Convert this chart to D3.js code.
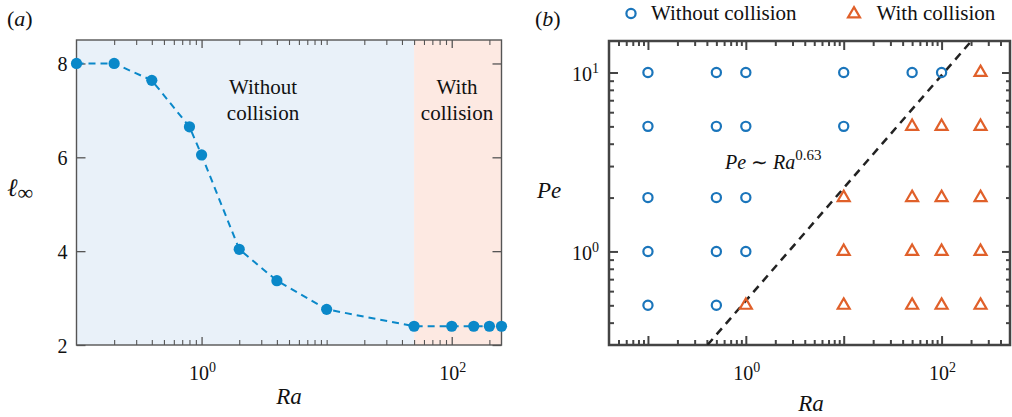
<!DOCTYPE html>
<html>
<head>
<meta charset="utf-8">
<script src="https://cdn.jsdelivr.net/npm/d3@7"></script>
<style>
  body { margin: 0; background: #fff; }
  svg { display: block; }
  text { font-family: "Liberation Serif", "Times New Roman", serif; fill: #111; }
</style>
</head>
<body>
<svg id="fig" width="1012" height="417"></svg>
<script>
// ---- Panel (a): asymptotic length against Rayleigh number ----
const raA = [0.1, 0.2, 0.4, 0.8, 1, 2, 4, 10, 50, 100, 150, 200, 250];
const ellInf = [8.0, 8.0, 7.64, 6.65, 6.05, 4.04, 3.37, 2.76, 2.4, 2.4, 2.4, 2.4, 2.4];
const regimeSplitRa = 50;
const xDomainA = [0.1, 250];
const yDomainA = [2, 8.5];
const xMajorA = [1, 100];
const xLabelExpA = ["0", "2"];
const yTicksA = [2, 4, 6, 8];
const regionLabelsA = [["Without", "collision"], ["With", "collision"]];

// ---- Panel (b): regime map in the (Ra, Pe) plane ----
const raB = [0.1, 0.5, 1, 10, 50, 100, 250];
const peB = [10, 5, 2, 1, 0.5];
// 1 = collision observed, one row per Ra value, columns follow peB
const collisionFlags = [
  [0, 0, 0, 0, 0],
  [0, 0, 0, 0, 0],
  [0, 0, 0, 0, 1],
  [0, 0, 1, 1, 1],
  [0, 1, 1, 1, 1],
  [0, 1, 1, 1, 1],
  [1, 1, 1, 1, 1]
];
const scalingExponent = 0.63;
const scalingPrefactor = 0.53;
const xDomainB = [0.04, 500];
const yDomainB = [0.3, 15];
const xMajorB = [0.1, 1, 10, 100];
const xLabeledB = [1, 100];
const xLabelExpB = ["0", "2"];
const yMajorB = [1, 10];
const yLabelExpB = ["0", "1"];
const legendLabels = ["Without collision", "With collision"];

const cPoint = "#0a88c9";
const cNo = "#1a75bb";
const cYes = "#e0602a";

const svg = d3.select("#fig");

// minor decade ticks (2..9 x 10^k) inside a log domain, skipping given majors
function minorLog(domain, skip) {
  const out = [];
  const e0 = Math.floor(Math.log10(domain[0])), e1 = Math.ceil(Math.log10(domain[1]));
  for (let e = e0; e <= e1; e++) {
    for (let k = 1; k <= 9; k++) {
      const v = +(k * Math.pow(10, e)).toPrecision(6);
      if (v > domain[0] * 1.0001 && v < domain[1] * 0.9999 && !skip.includes(v)) out.push(v);
    }
  }
  return out;
}

function tickSet(g, gen, scale, values, size, width, color) {
  g.call(gen(scale).tickValues(values).tickSize(size).tickSizeOuter(0).tickFormat(""));
  g.select(".domain").remove();
  g.selectAll("line").attr("stroke", color).attr("stroke-width", width);
}

function powLabel(g, x, y, anchor, exp, size) {
  const t = g.append("text").attr("x", x).attr("y", y)
    .attr("text-anchor", anchor).style("font-size", size + "px");
  t.append("tspan").text("10");
  t.append("tspan").attr("dy", -8).style("font-size", (size * 0.7) + "px").text(exp);
}

// ================= Panel (a) =================
const A = { l: 76.5, r: 501.5, t: 40, b: 345 };
const xa = d3.scaleLog().domain(xDomainA).range([A.l, A.r]);
const ya = d3.scaleLinear().domain(yDomainA).range([A.b, A.t]);
const ga = svg.append("g");

ga.append("rect").attr("x", xa(xDomainA[0])).attr("y", A.t)
  .attr("width", xa(regimeSplitRa) - xa(xDomainA[0])).attr("height", A.b - A.t)
  .attr("fill", "#e9f1f9");
ga.append("rect").attr("x", xa(regimeSplitRa)).attr("y", A.t)
  .attr("width", xa(xDomainA[1]) - xa(regimeSplitRa)).attr("height", A.b - A.t)
  .attr("fill", "#fde9e2");

const minorA = minorLog(xDomainA, xMajorA);
const axCol = "#555";
tickSet(ga.append("g").attr("transform", `translate(0,${A.b})`), d3.axisTop, xa, xMajorA, 8, 1.3, axCol);
tickSet(ga.append("g").attr("transform", `translate(0,${A.b})`), d3.axisTop, xa, minorA, 5, 1.1, axCol);
tickSet(ga.append("g").attr("transform", `translate(0,${A.t})`), d3.axisBottom, xa, xMajorA, 8, 1.3, axCol);
tickSet(ga.append("g").attr("transform", `translate(0,${A.t})`), d3.axisBottom, xa, minorA, 5, 1.1, axCol);
tickSet(ga.append("g").attr("transform", `translate(${A.l},0)`), d3.axisRight, ya, yTicksA, 9, 1.3, axCol);
tickSet(ga.append("g").attr("transform", `translate(${A.r},0)`), d3.axisLeft, ya, yTicksA, 9, 1.3, axCol);

ga.append("rect").attr("x", A.l).attr("y", A.t).attr("width", A.r - A.l).attr("height", A.b - A.t)
  .attr("fill", "none").attr("stroke", axCol).attr("stroke-width", 1.4);

yTicksA.forEach(v => {
  ga.append("text").attr("x", A.l - 9).attr("y", ya(v) + 7.5).attr("text-anchor", "end")
    .style("font-size", "20px").text(v);
});
xMajorA.forEach((v, i) => powLabel(ga, xa(v) + 1, 380, "middle", xLabelExpA[i], 20));

const lineA = d3.line().x((d, i) => xa(raA[i])).y(d => ya(d));
ga.append("path").datum(ellInf).attr("d", lineA).attr("fill", "none")
  .attr("stroke", cPoint).attr("stroke-width", 2).attr("stroke-dasharray", "7,5");
ga.selectAll("circle.pt").data(ellInf).join("circle").attr("class", "pt")
  .attr("cx", (d, i) => xa(raA[i])).attr("cy", d => ya(d)).attr("r", 5.6).attr("fill", cPoint);

const regionCx = [263, 457];
regionLabelsA.forEach((lines, k) => {
  lines.forEach((s, j) => {
    ga.append("text").attr("x", regionCx[k]).attr("y", 94 + j * 26).attr("text-anchor", "middle")
      .style("font-size", "21px").text(s);
  });
});

ga.append("text").attr("x", 289).attr("y", 404).attr("text-anchor", "middle")
  .style("font-size", "23px").style("font-style", "italic").text("Ra");
const yl = ga.append("text").attr("x", 7).attr("y", 196).style("font-size", "25px");
yl.append("tspan").style("font-style", "italic").text("ℓ");
yl.append("tspan").attr("dy", 4).style("font-size", "22px").text("∞");

const pa = ga.append("text").attr("x", 7).attr("y", 26).style("font-size", "22px");
pa.append("tspan").text("(");
pa.append("tspan").style("font-style", "italic").text("a");
pa.append("tspan").text(")");

// ================= Panel (b) =================
const B = { l: 609, r: 1010, t: 41, b: 345 };
const xb = d3.scaleLog().domain(xDomainB).range([B.l, B.r]);
const yb = d3.scaleLog().domain(yDomainB).range([B.b, B.t]);
const gb = svg.append("g");
const axColB = "#444";

const minorXB = minorLog(xDomainB, xMajorB);
const minorYB = minorLog(yDomainB, yMajorB);
tickSet(gb.append("g").attr("transform", `translate(0,${B.b})`), d3.axisTop, xb, xMajorB, 9, 2, axColB);
tickSet(gb.append("g").attr("transform", `translate(0,${B.b})`), d3.axisTop, xb, minorXB, 5, 2, axColB);
tickSet(gb.append("g").attr("transform", `translate(0,${B.t})`), d3.axisBottom, xb, xMajorB, 9, 2, axColB);
tickSet(gb.append("g").attr("transform", `translate(0,${B.t})`), d3.axisBottom, xb, minorXB, 5, 2, axColB);
tickSet(gb.append("g").attr("transform", `translate(${B.l},0)`), d3.axisRight, yb, yMajorB, 9, 2, axColB);
tickSet(gb.append("g").attr("transform", `translate(${B.l},0)`), d3.axisRight, yb, minorYB, 5, 2, axColB);
tickSet(gb.append("g").attr("transform", `translate(${B.r},0)`), d3.axisLeft, yb, yMajorB, 8, 2, axColB);
tickSet(gb.append("g").attr("transform", `translate(${B.r},0)`), d3.axisLeft, yb, minorYB, 4, 2, axColB);

gb.append("rect").attr("x", B.l).attr("y", B.t).attr("width", B.r - B.l).attr("height", B.b - B.t)
  .attr("fill", "none").attr("stroke", axColB).attr("stroke-width", 2.5);

xLabeledB.forEach((v, i) => powLabel(gb, xb(v) + 1, 380, "middle", xLabelExpB[i], 20));
yMajorB.forEach((v, i) => powLabel(gb, 599, yb(v) + 8.5, "end", yLabelExpB[i], 20));

// fitted power law, clipped to the axes box
gb.append("clipPath").attr("id", "clipB").append("rect")
  .attr("x", B.l).attr("y", B.t).attr("width", B.r - B.l).attr("height", B.b - B.t);
const raLo = Math.pow(yDomainB[0] / scalingPrefactor, 1 / scalingExponent);
const raHi = Math.pow(yDomainB[1] / scalingPrefactor, 1 / scalingExponent);
const fitLine = d3.line().x(d => xb(d)).y(d => yb(scalingPrefactor * Math.pow(d, scalingExponent)));
gb.append("path").datum([raLo, raHi]).attr("d", fitLine).attr("clip-path", "url(#clipB)")
  .attr("fill", "none").attr("stroke", "#222").attr("stroke-width", 2.5).attr("stroke-dasharray", "8,6");

const cases = [];
raB.forEach((ra, i) => peB.forEach((pe, j) => cases.push({ ra, pe, hit: collisionFlags[i][j] })));
const tri = d3.symbol().type(d3.symbolTriangle).size(62);
gb.selectAll("circle.no").data(cases.filter(d => !d.hit)).join("circle").attr("class", "no")
  .attr("cx", d => xb(d.ra)).attr("cy", d => yb(d.pe)).attr("r", 4.6)
  .attr("fill", "none").attr("stroke", cNo).attr("stroke-width", 2.2);
gb.selectAll("path.yes").data(cases.filter(d => d.hit)).join("path").attr("class", "yes")
  .attr("d", tri).attr("transform", d => `translate(${xb(d.ra)},${yb(d.pe)})`)
  .attr("fill", "none").attr("stroke", cYes).attr("stroke-width", 2.2).attr("stroke-linejoin", "miter");

// legend
gb.append("circle").attr("cx", 631).attr("cy", 13.5).attr("r", 4.6)
  .attr("fill", "none").attr("stroke", cNo).attr("stroke-width", 2.2);
gb.append("text").attr("x", 651).attr("y", 19.5).style("font-size", "21px").text(legendLabels[0]);
gb.append("path").attr("d", tri).attr("transform", "translate(854,14)")
  .attr("fill", "none").attr("stroke", cYes).attr("stroke-width", 2.2);
gb.append("text").attr("x", 876.5).attr("y", 19.5).style("font-size", "21px").text(legendLabels[1]);

// scaling annotation
const ann = gb.append("text").attr("x", 725).attr("y", 169).style("font-size", "20px");
ann.append("tspan").style("font-style", "italic").text("Pe");
ann.append("tspan").text(" ∼ ");
ann.append("tspan").style("font-style", "italic").text("Ra");
ann.append("tspan").attr("dy", -9).style("font-size", "15px").text(String(scalingExponent));

gb.append("text").attr("x", 811).attr("y", 411).attr("text-anchor", "middle")
  .style("font-size", "23px").style("font-style", "italic").text("Ra");
gb.append("text").attr("x", 537).attr("y", 198)
  .style("font-size", "23px").style("font-style", "italic").text("Pe");

const pb = gb.append("text").attr("x", 535).attr("y", 26).style("font-size", "22px");
pb.append("tspan").text("(");
pb.append("tspan").style("font-style", "italic").text("b");
pb.append("tspan").text(")");
</script>
</body>
</html>
